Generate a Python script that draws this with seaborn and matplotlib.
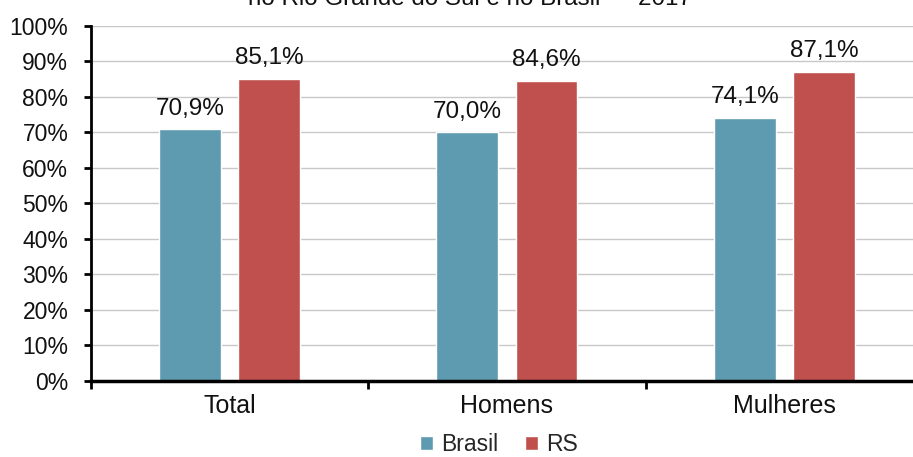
import matplotlib
matplotlib.use("Agg")
import matplotlib.pyplot as plt
import seaborn as sns
import pandas as pd
from matplotlib.ticker import FixedLocator, PercentFormatter

# data
categories = ["Total", "Homens", "Mulheres"]
brasil = [70.9, 70.0, 74.1]
rs = [85.1, 84.6, 87.1]
series = ["Brasil", "RS"]
title = "no Rio Grande do Sul e no Brasil \u2014 2017"

df = pd.DataFrame({
    "categoria": categories * 2,
    "serie": [series[0]] * 3 + [series[1]] * 3,
    "valor": brasil + rs,
})

sns.set_theme(style="white")
plt.rcParams["font.family"] = ["Liberation Sans", "DejaVu Sans"]

fig = plt.figure(figsize=(9.13, 4.57), dpi=100)
ax = fig.add_axes([0.0992, 0.1663, 0.9118, 0.777])

palette = {"Brasil": "#5E9AB0", "RS": "#C0504D"}
sns.barplot(data=df, x="categoria", y="valor", hue="serie", order=categories,
            hue_order=series, palette=palette, width=0.57, gap=0.22,
            saturation=1, ax=ax, legend=True)

for cont in ax.containers:
    ax.bar_label(cont, labels=[f"{v:.1f}%".replace(".", ",") for v in cont.datavalues],
                 padding=7, fontsize=17.5, color="#111111")

ax.set_ylim(0, 100)
ax.set_xlim(-0.5, 2.5)
ax.yaxis.set_major_locator(FixedLocator(range(0, 101, 10)))
ax.yaxis.set_major_formatter(PercentFormatter(decimals=0))
ax.yaxis.grid(True, color="#C8C8C8", linewidth=1)
ax.set_axisbelow(True)
ax.set_xlabel("")
ax.set_ylabel("")

for s in ["top", "right"]:
    ax.spines[s].set_visible(False)
ax.spines["left"].set_linewidth(2)
ax.spines["bottom"].set_linewidth(2.5)
ax.spines["left"].set_color("black")
ax.spines["bottom"].set_color("black")

ax.tick_params(axis="y", which="major", direction="out", length=5, width=2,
               color="black", pad=11, labelsize=16.5, labelcolor="#111111", left=True)
ax.tick_params(axis="x", which="major", length=0, pad=9, labelsize=18,
               labelcolor="#111111")
ax.xaxis.set_minor_locator(FixedLocator([-0.5, 0.5, 1.5, 2.5]))
ax.tick_params(axis="x", which="minor", direction="out", length=6, width=2,
               color="black", bottom=True)

handles, labels = ax.get_legend_handles_labels()
ax.get_legend().remove()
fig.legend(handles, labels, loc="center", bbox_to_anchor=(0.5466, 0.028),
           ncol=2, frameon=False, fontsize=16.5, handlelength=0.55,
           handleheight=0.55, handletextpad=0.35, columnspacing=1.2,
           borderpad=0.1)

# title is cut at the top edge, as in the reference
fig.text(0.515, 0.989, title, ha="center", va="baseline", fontsize=17.4,
         color="#111111")

fig.savefig("out.png", dpi=100)
